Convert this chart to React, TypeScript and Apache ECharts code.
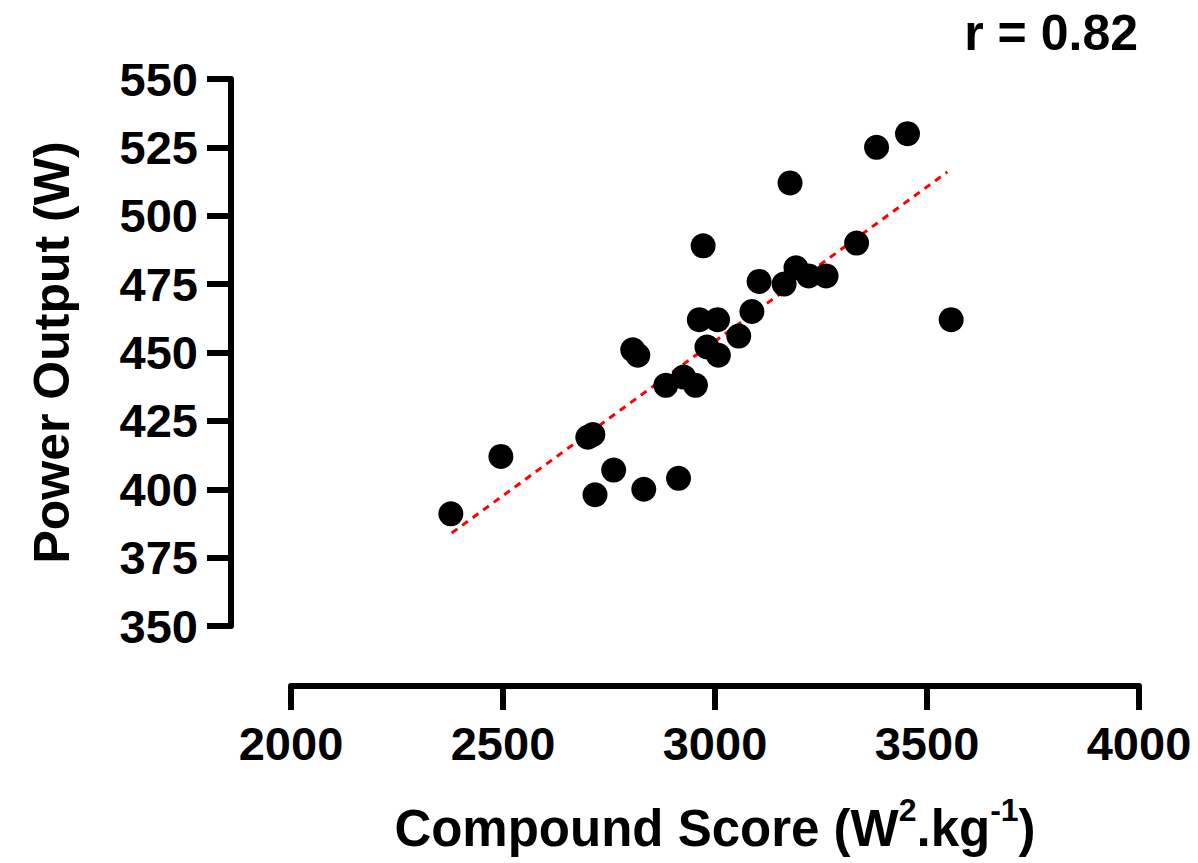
import React, { useEffect, useRef } from "react";
import * as echarts from "echarts";

const compoundScore = [2377, 2495, 2700, 2712, 2717, 2761, 2832, 2914, 2806, 2818, 2884, 2926, 2954, 2972, 2963, 3006, 2981, 3008, 3056, 3087, 3104, 3163, 3177, 3191, 3221, 3262, 3334, 3381, 3454, 3557];
const powerOutput = [391, 412, 419, 420, 398, 407, 400, 404, 451, 449, 438, 441, 438, 489, 462, 462, 452, 449, 456, 465, 476, 475, 512, 481, 478, 478, 490, 525, 530, 462];
const trendX = [2379, 3548];
const trendY = [384, 516];
const xTicks = { min: 2000, max: 4000, interval: 500 };
const yTicks = { min: 350, max: 550, interval: 25 };
const rLabel = "r = 0.82";
const xTitle = "Compound Score (W{sup|2}.kg{sup|-1})";
const yTitle = "Power Output (W)";

const FONT = "'Liberation Sans', Arial, Helvetica, sans-serif";

export default function App() {
  const ref = useRef<HTMLDivElement>(null);
  useEffect(() => {
    if (!ref.current) return;
    const chart = echarts.init(ref.current, null, { renderer: "svg" });
    const axisLine = { show: true, lineStyle: { color: "#000", width: 6 } };
    const axisTick = { show: true, length: 24, lineStyle: { color: "#000", width: 6 } };
    const axisLabelBase = {
      color: "#000",
      fontFamily: FONT,
      fontWeight: "bold" as const,
      fontSize: 47,
      formatter: (v: number) => String(v),
    };
    chart.setOption({
      animation: false,
      backgroundColor: "#fff",
      grid: {
        left: 291,
        right: 59,
        top: 79,
        bottom: 237,
        containLabel: false,
        outerBoundsMode: "none",
      },
      xAxis: {
        type: "value",
        min: xTicks.min,
        max: xTicks.max,
        interval: xTicks.interval,
        position: "bottom",
        offset: 60,
        axisLine,
        axisTick,
        splitLine: { show: false },
        axisLabel: { ...axisLabelBase, margin: 34 },
        name: xTitle,
        nameLocation: "middle",
        nameGap: 117,
        nameTextStyle: {
          color: "#000",
          fontFamily: FONT,
          fontWeight: "bold",
          fontSize: 51,
          rich: {
            sup: {
              fontFamily: FONT,
              fontWeight: "bold",
              fontSize: 32,
              lineHeight: 10,
              padding: [0, 0, 38, 0],
              color: "#000",
            },
          },
        },
      },
      yAxis: {
        type: "value",
        min: yTicks.min,
        max: yTicks.max,
        interval: yTicks.interval,
        position: "left",
        offset: 60,
        axisLine,
        axisTick,
        splitLine: { show: false },
        axisLabel: { ...axisLabelBase, margin: 33 },
        name: yTitle,
        nameLocation: "middle",
        nameRotate: 90,
        nameGap: 154,
        nameTextStyle: { color: "#000", fontFamily: FONT, fontWeight: "bold", fontSize: 50 },
      },
      graphic: [
        {
          type: "text",
          right: 60,
          top: 8,
          style: { text: rLabel, fill: "#000", font: `bold 50px ${FONT}` },
        },
      ],
      series: [
        {
          type: "line",
          data: trendX.map((x, i) => [x, trendY[i]]),
          showSymbol: false,
          symbol: "none",
          lineStyle: { color: "#ff0000", width: 3, type: [7, 6] },
          z: 1,
          silent: true,
        },
        {
          type: "scatter",
          data: compoundScore.map((x, i) => [x, powerOutput[i]]),
          symbol: "circle",
          symbolSize: 25,
          itemStyle: { color: "#000", opacity: 1 },
          z: 2,
        },
      ],
    });
    return () => chart.dispose();
  }, []);
  return <div ref={ref} style={{ width: 1198, height: 863, position: "absolute", left: 0, top: 0 }} />;
}
